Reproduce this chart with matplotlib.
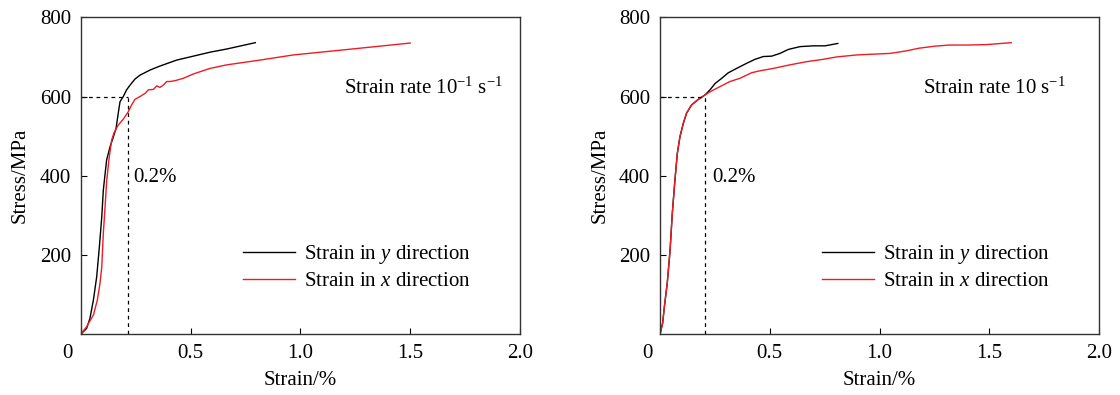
import matplotlib
matplotlib.use("Agg")
import matplotlib.pyplot as plt
from matplotlib.transforms import ScaledTranslation

plt.rcParams['font.family'] = ['Liberation Serif', 'DejaVu Serif']
plt.rcParams['mathtext.fontset'] = 'custom'
plt.rcParams['mathtext.rm'] = 'Liberation Serif'
plt.rcParams['mathtext.it'] = 'Liberation Serif:italic'
plt.rcParams['font.size'] = 15

# ---- Data: left panel (strain rate 10^-1 s^-1) ----
l_y_strain = [0, 0.027, 0.042, 0.058, 0.073, 0.085, 0.096, 0.103, 0.118, 0.134, 0.149, 0.161,
              0.171, 0.179, 0.194, 0.209, 0.225, 0.247, 0.270, 0.316, 0.361, 0.437, 0.513,
              0.589, 0.665, 0.795]
l_y_stress = [0, 15, 40, 87, 146, 221, 297, 364, 440, 474, 499, 520,
              558, 587, 600, 617, 629, 644, 654, 667, 677, 692, 702,
              712, 720, 736]
l_x_strain = [0, 0.027, 0.058, 0.076, 0.088, 0.096, 0.103, 0.111, 0.118, 0.130, 0.141, 0.152,
              0.171, 0.194, 0.217, 0.232, 0.247, 0.270, 0.293, 0.308, 0.331, 0.346, 0.361,
              0.376, 0.392, 0.407, 0.429, 0.467, 0.513, 0.589, 0.665, 0.816, 0.968, 1.2, 1.5]
l_x_stress = [0, 19, 49, 87, 129, 171, 255, 322, 385, 448, 490, 509,
              528, 543, 562, 579, 593, 600, 608, 617, 618, 627, 623,
              629, 638, 638, 640, 646, 657, 671, 680, 692, 705, 718, 735]

# ---- Data: right panel (strain rate 10 s^-1) ----
r_y_strain = [0, 0.012, 0.020, 0.033, 0.046, 0.056, 0.068, 0.079, 0.091, 0.106, 0.121, 0.144,
              0.175, 0.205, 0.228, 0.251, 0.281, 0.311, 0.349, 0.395, 0.433, 0.471, 0.509,
              0.547, 0.585, 0.638, 0.699, 0.752, 0.81]
r_y_stress = [0, 28, 70, 129, 213, 305, 389, 457, 499, 532, 558, 579,
              593, 604, 617, 633, 646, 660, 671, 684, 694, 701, 702,
              709, 719, 726, 728, 728, 734]
r_x_strain = [0, 0.012, 0.020, 0.033, 0.046, 0.056, 0.068, 0.079, 0.091, 0.106, 0.121, 0.144,
              0.175, 0.205, 0.228, 0.273, 0.319, 0.364, 0.417, 0.455, 0.516, 0.592, 0.668,
              0.744, 0.805, 0.896, 0.972, 1.05, 1.12, 1.18, 1.25, 1.318, 1.4, 1.485, 1.6]
r_x_stress = [0, 28, 70, 129, 213, 305, 389, 457, 499, 532, 558, 579,
              593, 604, 612, 625, 638, 646, 660, 665, 671, 680, 688,
              694, 700, 705, 707, 709, 715, 722, 727, 730, 730, 731, 736]

xticks = [0, 0.5, 1.0, 1.5, 2.0]
xticklabels = ['0', '0.5', '1.0', '1.5', '2.0']
yticks = [200, 400, 600, 800]
yticklabels = ['200', '400', '600', '800']

panels = [
    dict(ys=l_y_strain, yv=l_y_stress, xs=l_x_strain, xv=l_x_stress, yield_x=0.217,
         rate=r'Strain rate 10$^{-1}$ s$^{-1}$', rect=[80.7/1120, 1-334.3/395, 439.3/1120, 317/395]),
    dict(ys=r_y_strain, yv=r_y_stress, xs=r_x_strain, xv=r_x_stress, yield_x=0.205,
         rate=r'Strain rate 10 s$^{-1}$', rect=[660/1120, 1-334.3/395, 439/1120, 317/395]),
]

fig = plt.figure(figsize=(11.2, 3.95), dpi=100)
for p in panels:
    ax = fig.add_axes(p['rect'])
    ax.plot(p['ys'], p['yv'], color='black', lw=1.0, label=r'Strain in $y$ direction')
    ax.plot(p['xs'], p['xv'], color='#ee1c24', lw=1.0, label=r'Strain in $x$ direction')
    ax.plot([0, p['yield_x']], [600, 600], color='black', lw=0.9, ls=(0, (3, 3)))
    ax.plot([p['yield_x'], p['yield_x']], [0, 600], color='black', lw=0.9, ls=(0, (3, 3)))
    ax.text(0.238, 396, '0.2%', ha='left', va='center', fontsize=15)
    ax.text(1.2, 620, p['rate'], ha='left', va='center', fontsize=15)
    ax.set_xlim(0, 2.0)
    ax.set_ylim(0, 800)
    ax.set_xticks(xticks)
    ax.set_xticklabels(xticklabels)
    ax.set_yticks(yticks)
    ax.set_yticklabels(yticklabels)
    ax.tick_params(direction='in', length=4, width=0.8, labelsize=15, pad=7)
    lbl = ax.get_xticklabels()[0]
    lbl.set_transform(lbl.get_transform() + ScaledTranslation(-0.13, 0, fig.dpi_scale_trans))
    for s in ax.spines.values():
        s.set_linewidth(1.0)
        s.set_color('#333333')
    ax.set_xlabel('Strain/%', fontsize=15, labelpad=6)
    ax.set_ylabel('Stress/MPa', fontsize=15, labelpad=7)
    ax.legend(loc='center left', bbox_to_anchor=(0.369, 0.212), frameon=False,
              borderpad=0, borderaxespad=0, handlelength=2.5, handletextpad=0.45,
              labelspacing=0.25, fontsize=15)

fig.savefig('out.png', dpi=100)
